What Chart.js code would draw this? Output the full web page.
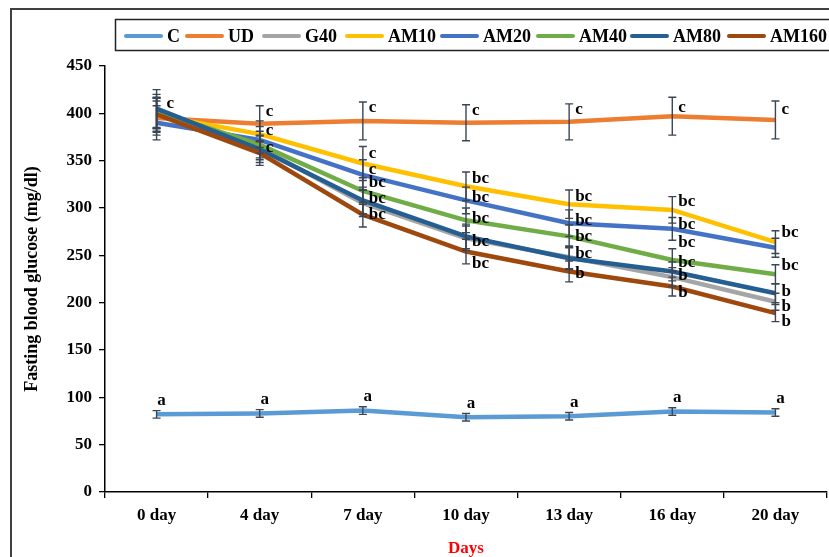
<!DOCTYPE html>
<html><head><meta charset="utf-8">
<script src="https://cdn.jsdelivr.net/npm/chart.js@4.4.1/dist/chart.umd.min.js"></script>
<style>html,body{margin:0;padding:0;background:#fff}canvas{display:block}</style>
</head><body>
<canvas id="c" width="829" height="557"></canvas>
<script>
// ---------- data ----------
const days = ['0 day','4 day','7 day','10 day','13 day','16 day','20 day'];
const seriesNames = ['C','UD','G40','AM10','AM20','AM40','AM80','AM160'];

const valC     = [82, 83, 86, 79, 80, 85, 84];
const valUD    = [395, 389, 392, 390, 391, 397, 393];
const valG40   = [400, 364, 305, 268, 248, 227, 201];
const valAM10  = [398, 378, 347, 323, 304, 298, 264];
const valAM20  = [390, 372, 335, 308, 284, 278, 258];
const valAM40  = [402, 367, 318, 287, 270, 245, 230];
const valAM80  = [405, 362, 308, 270, 247, 233, 210];
const valAM160 = [399, 358, 293, 254, 233, 217, 189];

const errC     = [4, 4, 4, 4, 4, 4, 4];
const errUD    = [18, 19, 20, 19, 19, 20, 20];
const errG40   = [16, 13, 14, 13, 12, 10, 9];
const errAM10  = [18, 14, 18, 15, 15, 14, 12];
const errAM20  = [18, 14, 16, 14, 14, 12, 10];
const errAM40  = [18, 14, 14, 13, 12, 12, 10];
const errAM80  = [20, 14, 14, 13, 12, 10, 10];
const errAM160 = [18, 13, 13, 13, 11, 10, 9];

const letC     = ['a','a','a','a','a','a','a'];
const letUD    = ['c','c','c','c','c','c','c'];
const letG40   = ['','','','','','b','b'];
const letAM10  = ['','c','c','bc','bc','bc','bc'];
const letAM20  = ['','','c','bc','bc','bc',''];
const letAM40  = ['','c','bc','bc','bc','bc','bc'];
const letAM80  = ['','','bc','bc','bc','bc','b'];
const letAM160 = ['','','bc','bc','b','b','b'];

// ---------- styling / layout (not data) ----------
const colors = ['#5B9BD5','#ED7D31','#A5A5A5','#FFC000','#4472C4','#70AD47','#255E91','#9E480E'];
const values = [valC,valUD,valG40,valAM10,valAM20,valAM40,valAM80,valAM160];
const errors = [errC,errUD,errG40,errAM10,errAM20,errAM40,errAM80,errAM160];
const letters = [letC,letUD,letG40,letAM10,letAM20,letAM40,letAM80,letAM160];
// vertical pixel nudges of the letter labels relative to their point
const letterDy = [
  [-14,-14,-14,-14,-14,-14,-14],
  [-14,-12,-13,-12,-12,-9,-10],
  [0,0,0,0,0,-1,5],
  [0,-4,-10,-8,-8,-8,-9],
  [0,0,-5,-3,-3,-4,0],
  [0,3,-8,-2,0,-17,-9],
  [0,0,-2,5,-5,-9,-2],
  [0,0,0,12,2,6,9]
];
const letterDx = [5,10,6,6,6,6,6,6];
const legendX = [124,185,262,345,440,536,630,727];
const SERIF = '"Liberation Serif","Times New Roman",serif';

const datasets = seriesNames.map((n,i)=>({
  label: n,
  data: values[i],
  borderColor: colors[i],
  backgroundColor: colors[i],
  borderWidth: 4.5,
  pointRadius: 0,
  tension: 0,
  order: -i
}));

const decor = {
  id: 'decor',
  afterDatasetsDraw(chart){
    const ctx = chart.ctx, ys = chart.scales.y;
    ctx.save();
    // error bars
    ctx.strokeStyle = '#3B4554';
    ctx.lineWidth = 1.4;
    datasets.forEach((ds,i)=>{
      const meta = chart.getDatasetMeta(i);
      ds.data.forEach((v,j)=>{
        const x = meta.data[j].x;
        const yt = ys.getPixelForValue(v + errors[i][j]);
        const yb = ys.getPixelForValue(v - errors[i][j]);
        ctx.beginPath();
        ctx.moveTo(x,yt); ctx.lineTo(x,yb);
        ctx.moveTo(x-4,yt); ctx.lineTo(x+4,yt);
        ctx.moveTo(x-4,yb); ctx.lineTo(x+4,yb);
        ctx.stroke();
      });
    });
    // letters
    ctx.fillStyle = '#000';
    ctx.font = 'bold 17px ' + SERIF;
    ctx.textBaseline = 'middle';
    datasets.forEach((ds,i)=>{
      const meta = chart.getDatasetMeta(i);
      letters[i].forEach((t,j)=>{
        if(!t) return;
        const p = meta.data[j];
        if(i===0){ ctx.textAlign='center'; ctx.fillText(t, p.x+letterDx[i], p.y+letterDy[i][j]); }
        else { ctx.textAlign='left'; ctx.fillText(t, p.x+(j===0?letterDx[i]:6), p.y+letterDy[i][j]); }
      });
    });
    ctx.restore();
  },
  afterDraw(chart){
    const ctx = chart.ctx;
    ctx.save();
    // outer frame
    ctx.strokeStyle = '#404040';
    ctx.lineWidth = 2;
    ctx.beginPath();
    ctx.moveTo(11,557); ctx.lineTo(11,9); ctx.lineTo(829,9);
    ctx.stroke();
    // legend box
    ctx.lineWidth = 1.5;
    ctx.strokeStyle = '#222';
    ctx.strokeRect(115.5,19.5,720,31);
    // legend items
    ctx.font = 'bold 18px ' + SERIF;
    ctx.textBaseline = 'middle';
    ctx.textAlign = 'left';
    datasets.forEach((ds,i)=>{
      const x = legendX[i], y = 36;
      ctx.strokeStyle = colors[i];
      ctx.lineWidth = 4;
      ctx.lineCap = 'round';
      ctx.beginPath(); ctx.moveTo(x+2,y); ctx.lineTo(x+37,y); ctx.stroke();
      ctx.fillStyle = '#000';
      ctx.fillText(ds.label, x+43, y+1);
    });
    ctx.restore();
  }
};

new Chart(document.getElementById('c'), {
  type: 'line',
  data: { labels: days, datasets },
  options: {
    responsive: false,
    animation: false,
    devicePixelRatio: 1,
    layout: { padding: { top: 66, right: 2, left: 0, bottom: 0 } },
    plugins: { legend: { display: false }, tooltip: { enabled: false } },
    scales: {
      x: {
        offset: true,
        grid: { offset: true, drawOnChartArea: false, tickLength: 6, color: '#000', lineWidth: 1.3 },
        border: { color: '#000', width: 1.5 },
        ticks: { color: '#000', font: { family: SERIF, size: 17, weight: 'bold' }, padding: 7, maxRotation: 0 },
        title: { display: true, text: 'Days', color: '#FF0000', font: { family: SERIF, size: 17, weight: 'bold', lineHeight: 1 }, padding: { top: 0, bottom: 0 } },
        afterFit(s){ s.height = 65; }
      },
      y: {
        min: 0, max: 450,
        grid: { drawOnChartArea: false, tickLength: 6, color: '#000', lineWidth: 1.3 },
        border: { color: '#000', width: 1.5 },
        ticks: { stepSize: 50, color: '#000', font: { family: SERIF, size: 17, weight: 'bold' }, padding: 7 },
        title: { display: true, text: 'Fasting blood glucose (mg/dl)', color: '#000', font: { family: SERIF, size: 18, weight: 'bold', lineHeight: 1.2 }, padding: { top: 22, bottom: 0 } },
        afterFit(s){ s.width = 105; }
      }
    }
  },
  plugins: [decor]
});
</script>
</body></html>
